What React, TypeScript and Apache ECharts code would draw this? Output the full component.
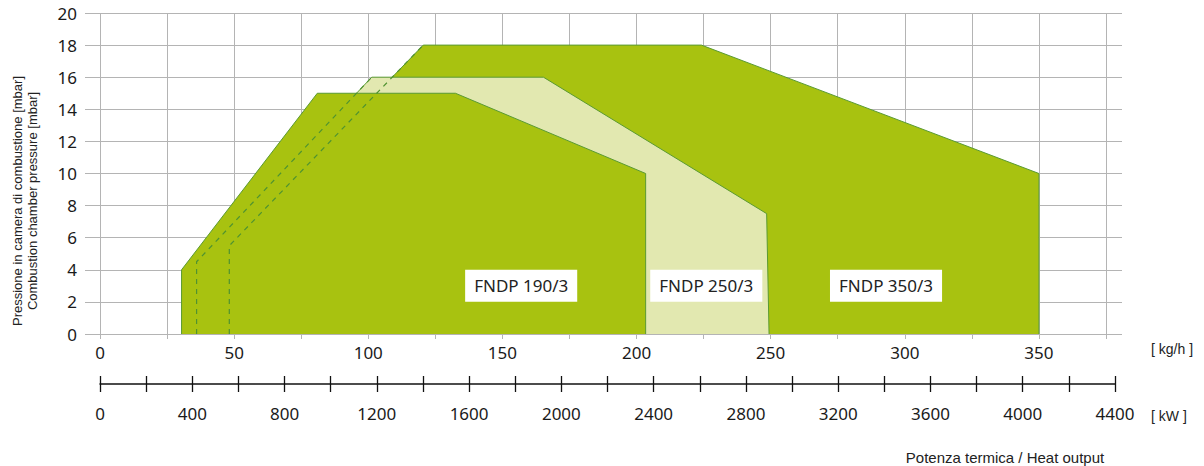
import React, { useEffect, useRef } from "react";
import * as echarts from "echarts";

// Operating ranges (x: kg/h, y: mbar)
const fndp350X = [48.2, 48.2, 120.5, 224.2, 350, 350];
const fndp350Y = [0, 5.5, 18, 18, 10, 0];
const fndp250X = [36, 36, 101.3, 165.3, 248.5, 249.4];
const fndp250Y = [0, 4.5, 16, 16, 7.5, 0];
const fndp190X = [30.4, 30.4, 81, 132.5, 203.4, 203.4];
const fndp190Y = [0, 4, 15, 15, 10, 0];

// hidden left edges (dashed)
const edge250X = [36, 36, 101.3];
const edge250Y = [0, 4.5, 16];
const edge350X = [48.2, 48.2, 120.5];
const edge350Y = [0, 5.5, 18];

const modelNames = ["FNDP 190/3", "FNDP 250/3", "FNDP 350/3"];
const modelLabelX = [157, 226, 293];
const modelLabelY = [3, 3, 3];

const yTitleIt = "Pressione in camera di combustione [mbar]";
const yTitleEn = "Combustion chamber pressure [mbar]";
const xTitle = "Potenza termica / Heat output";
const unitKg = "[ kg/h ]";
const unitKw = "[ kW ]";

const DARK = "#a8c210";
const LIGHT = "#e2e8b0";
const EDGE = "#5a9a32";
const GRIDC = "#b4b4b4";

const zip = (xs: number[], ys: number[]) => xs.map((x, i) => [x, ys[i]]);

export default function App() {
  const ref = useRef<HTMLDivElement>(null);
  useEffect(() => {
    document.body.style.margin = "0";
    const chart = echarts.init(ref.current!, null, { renderer: "svg" });
    const numFont = "Noto Sans";
    const sansFont = "'Liberation Sans', Arial, sans-serif";
    const poly = (name: string, xs: number[], ys: number[], fill: string, z: number) => ({
      name,
      type: "line",
      xAxisIndex: 0,
      yAxisIndex: 0,
      z,
      data: zip(xs, ys),
      symbol: "none",
      lineStyle: { color: EDGE, width: 1 },
      areaStyle: { color: fill, opacity: 1 },
      silent: true,
    });
    const dashed = (xs: number[], ys: number[]) => ({
      type: "line",
      xAxisIndex: 0,
      yAxisIndex: 0,
      z: 8,
      data: zip(xs, ys),
      symbol: "none",
      lineStyle: { color: "#4f9330", width: 1.2, type: [5, 5] },
      silent: true,
    });
    chart.setOption({
      animation: false,
      grid: [
        { left: 100, top: 13, width: 1006, height: 321 },
        { left: 100, top: 370, width: 1015, height: 14 },
      ],
      xAxis: [
        {
          gridIndex: 0,
          type: "value",
          min: 0,
          max: 375,
          interval: 25,
          axisLine: { show: true, lineStyle: { color: GRIDC, width: 1 } },
          axisTick: { show: true, length: 5, lineStyle: { color: GRIDC } },
          axisLabel: {
            margin: 10,
            fontSize: 17,
            fontFamily: numFont,
            color: "#1a1a1a",
            formatter: (v: number) => (v % 50 === 0 && v <= 350 ? String(v) : ""),
          },
          splitLine: { show: true, lineStyle: { color: GRIDC, width: 1 } },
        },
        {
          gridIndex: 1,
          type: "value",
          position: "bottom",
          min: 0,
          max: 4400,
          interval: 200,
          axisLine: { show: true, lineStyle: { color: "#111", width: 1.5 } },
          axisTick: { show: true, length: 8, lineStyle: { color: "#111", width: 1.3 } },
          axisLabel: {
            margin: 21,
            fontSize: 17,
            fontFamily: numFont,
            color: "#1a1a1a",
            showMaxLabel: true,
            formatter: (v: number) => (v % 400 === 0 ? String(v) : ""),
          },
          splitLine: { show: false },
        },
        {
          gridIndex: 1,
          type: "value",
          position: "bottom",
          min: 0,
          max: 4400,
          interval: 200,
          axisLine: { show: false },
          axisTick: { show: true, inside: true, length: 8, lineStyle: { color: "#111", width: 1.3 } },
          axisLabel: { show: false },
          splitLine: { show: false },
        },
      ],
      yAxis: [
        {
          gridIndex: 0,
          type: "value",
          min: 0,
          max: 20,
          interval: 2,
          axisLine: { show: false },
          axisTick: { show: true, length: 15, lineStyle: { color: GRIDC } },
          axisLabel: { margin: 23, fontSize: 17, fontFamily: numFont, color: "#1a1a1a" },
          splitLine: { show: true, lineStyle: { color: GRIDC, width: 1 } },
        },
        {
          gridIndex: 0,
          type: "value",
          position: "right",
          min: 0,
          max: 20,
          interval: 2,
          axisLine: { show: false },
          axisTick: { show: true, length: 16, lineStyle: { color: GRIDC } },
          axisLabel: { show: false },
          splitLine: { show: false },
        },
        { gridIndex: 1, type: "value", show: false, min: 0, max: 1 },
      ],
      series: [
        poly("FNDP 350/3", fndp350X, fndp350Y, DARK, 3),
        poly("FNDP 250/3", fndp250X, fndp250Y, LIGHT, 4),
        poly("FNDP 190/3", fndp190X, fndp190Y, DARK, 5),
        dashed(edge250X, edge250Y),
        dashed(edge350X, edge350Y),
        {
          type: "scatter",
          xAxisIndex: 0,
          yAxisIndex: 0,
          z: 10,
          symbol: "rect",
          symbolSize: 1,
          itemStyle: { color: "#ffffff", opacity: 1 },
          silent: true,
          data: modelNames.map((n, i) => ({ name: n, value: [modelLabelX[i], modelLabelY[i]] })),
          label: {
            show: true,
            position: "inside",
            formatter: (p: any) => p.name,
            backgroundColor: "#ffffff",
            opacity: 1,
            padding: [8, 9, 7, 9],
            fontSize: 17,
            fontFamily: numFont,
            color: "#222222",
          },
        },
        { type: "line", xAxisIndex: 1, yAxisIndex: 2, data: [], silent: true },
      ],
      graphic: [
        {
          type: "text",
          x: 17,
          y: 201,
          rotation: Math.PI / 2,
          style: { text: yTitleIt, font: "13px " + sansFont, fill: "#222", textAlign: "center", textVerticalAlign: "middle" },
        },
        {
          type: "text",
          x: 32,
          y: 201,
          rotation: Math.PI / 2,
          style: { text: yTitleEn, font: "13px " + sansFont, fill: "#222", textAlign: "center", textVerticalAlign: "middle" },
        },
        {
          type: "text",
          x: 1151,
          y: 349,
          style: { text: unitKg, font: "14px " + sansFont, fill: "#222", textAlign: "left", textVerticalAlign: "middle" },
        },
        {
          type: "text",
          x: 1151,
          y: 416,
          style: { text: unitKw, font: "14px " + sansFont, fill: "#222", textAlign: "left", textVerticalAlign: "middle" },
        },
        {
          type: "text",
          x: 1005,
          y: 457,
          style: { text: xTitle, font: "15px " + sansFont, fill: "#222", textAlign: "center", textVerticalAlign: "middle" },
        },
      ],
    });
    return () => chart.dispose();
  }, []);
  return <div ref={ref} style={{ width: 1204, height: 466 }} />;
}
